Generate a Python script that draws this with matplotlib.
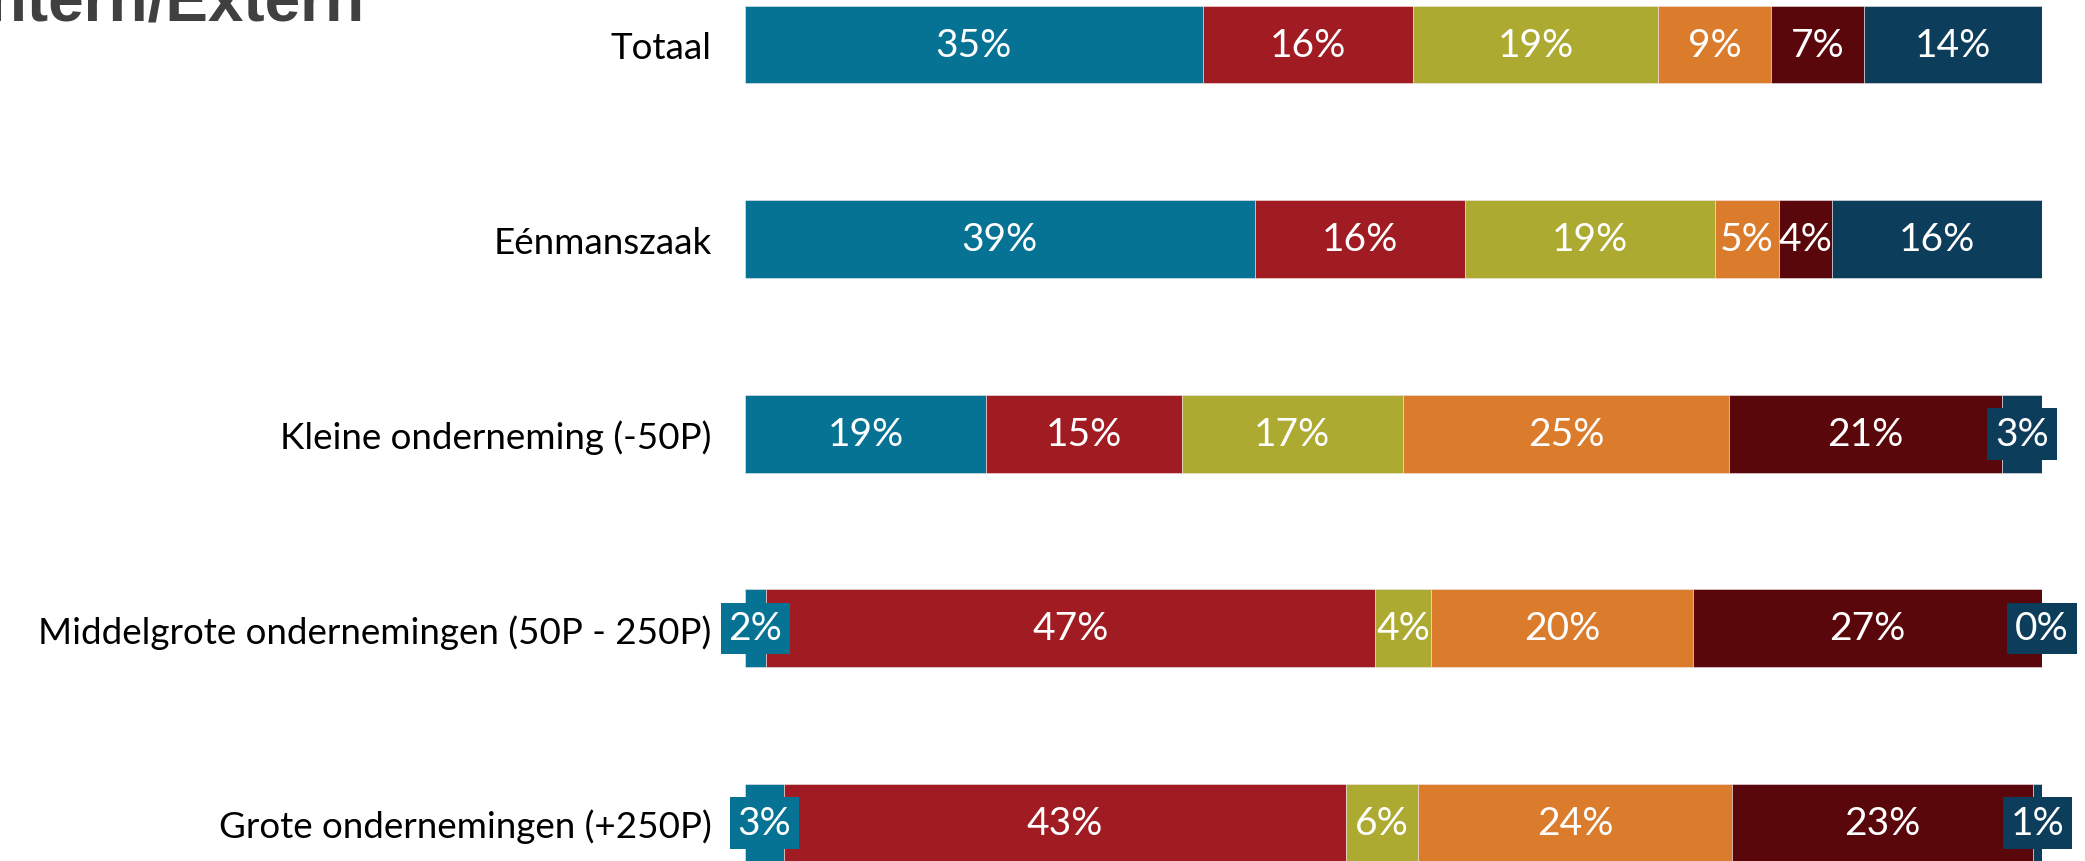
import matplotlib
matplotlib.use("Agg")
import matplotlib.pyplot as plt
import numpy as np

# categories (top to bottom) and segment shares in %
categories = ["Totaal", "Eénmanszaak", "Kleine onderneming (-50P)",
              "Middelgrote ondernemingen (50P - 250P)", "Grote ondernemingen (+250P)"]
seg1 = [35.3, 39.3, 18.6, 1.6, 3.0]
seg2 = [16.2, 16.2, 15.1, 47.0, 43.3]
seg3 = [18.9, 19.3, 17.0, 4.3, 5.6]
seg4 = [8.7, 4.9, 25.2, 20.2, 24.2]
seg5 = [7.2, 4.1, 21.0, 26.9, 23.2]
seg6 = [13.7, 16.2, 3.1, 0.0, 0.7]

colors = ["#067394", "#A01C22", "#ADAA32", "#DB7B2C", "#5A070B", "#0C3D5A"]
series = [seg1, seg2, seg3, seg4, seg5, seg6]

plt.rcParams['font.family'] = ['Lato', 'DejaVu Sans']

W, H = 2085, 862
fig = plt.figure(figsize=(W / 100, H / 100), dpi=100)
ax = fig.add_axes([745 / W, 0, (2042 - 745) / W, 1])

y = np.arange(len(categories))
left = np.zeros(len(categories))
for vals, c in zip(series, colors):
    vals = np.array(vals)
    ax.barh(y, vals, left=left, height=0.4, color=c, edgecolor="#f0e8e8", linewidth=0.4)
    for yi, l, v in zip(y, left, vals):
        txt = f"{v:.0f}%"
        kw = {}
        # small segments get a label box in the segment colour
        if v < 3.5:
            kw["bbox"] = dict(boxstyle="square,pad=0.2", fc=c, ec="none")
        ax.text(l + v / 2, yi, txt, ha="center", va="center", color="white",
                fontsize=28, clip_on=False, **kw)
    left += vals

ax.set_xlim(0, 100)
ax.set_ylim(4.195, -0.234)
ax.set_yticks(y)
ax.set_yticklabels(categories, fontsize=26.5)
ax.tick_params(axis="y", length=0, pad=24)
ax.set_xticks([])
for s in ax.spines.values():
    s.set_visible(False)

fig.text(365 / W, 1 - 20 / H, "Intern/Extern", ha="right", va="baseline",
         fontsize=46, fontweight="bold", color="#404040", family="Liberation Sans")

fig.savefig("out.png", dpi=100)
